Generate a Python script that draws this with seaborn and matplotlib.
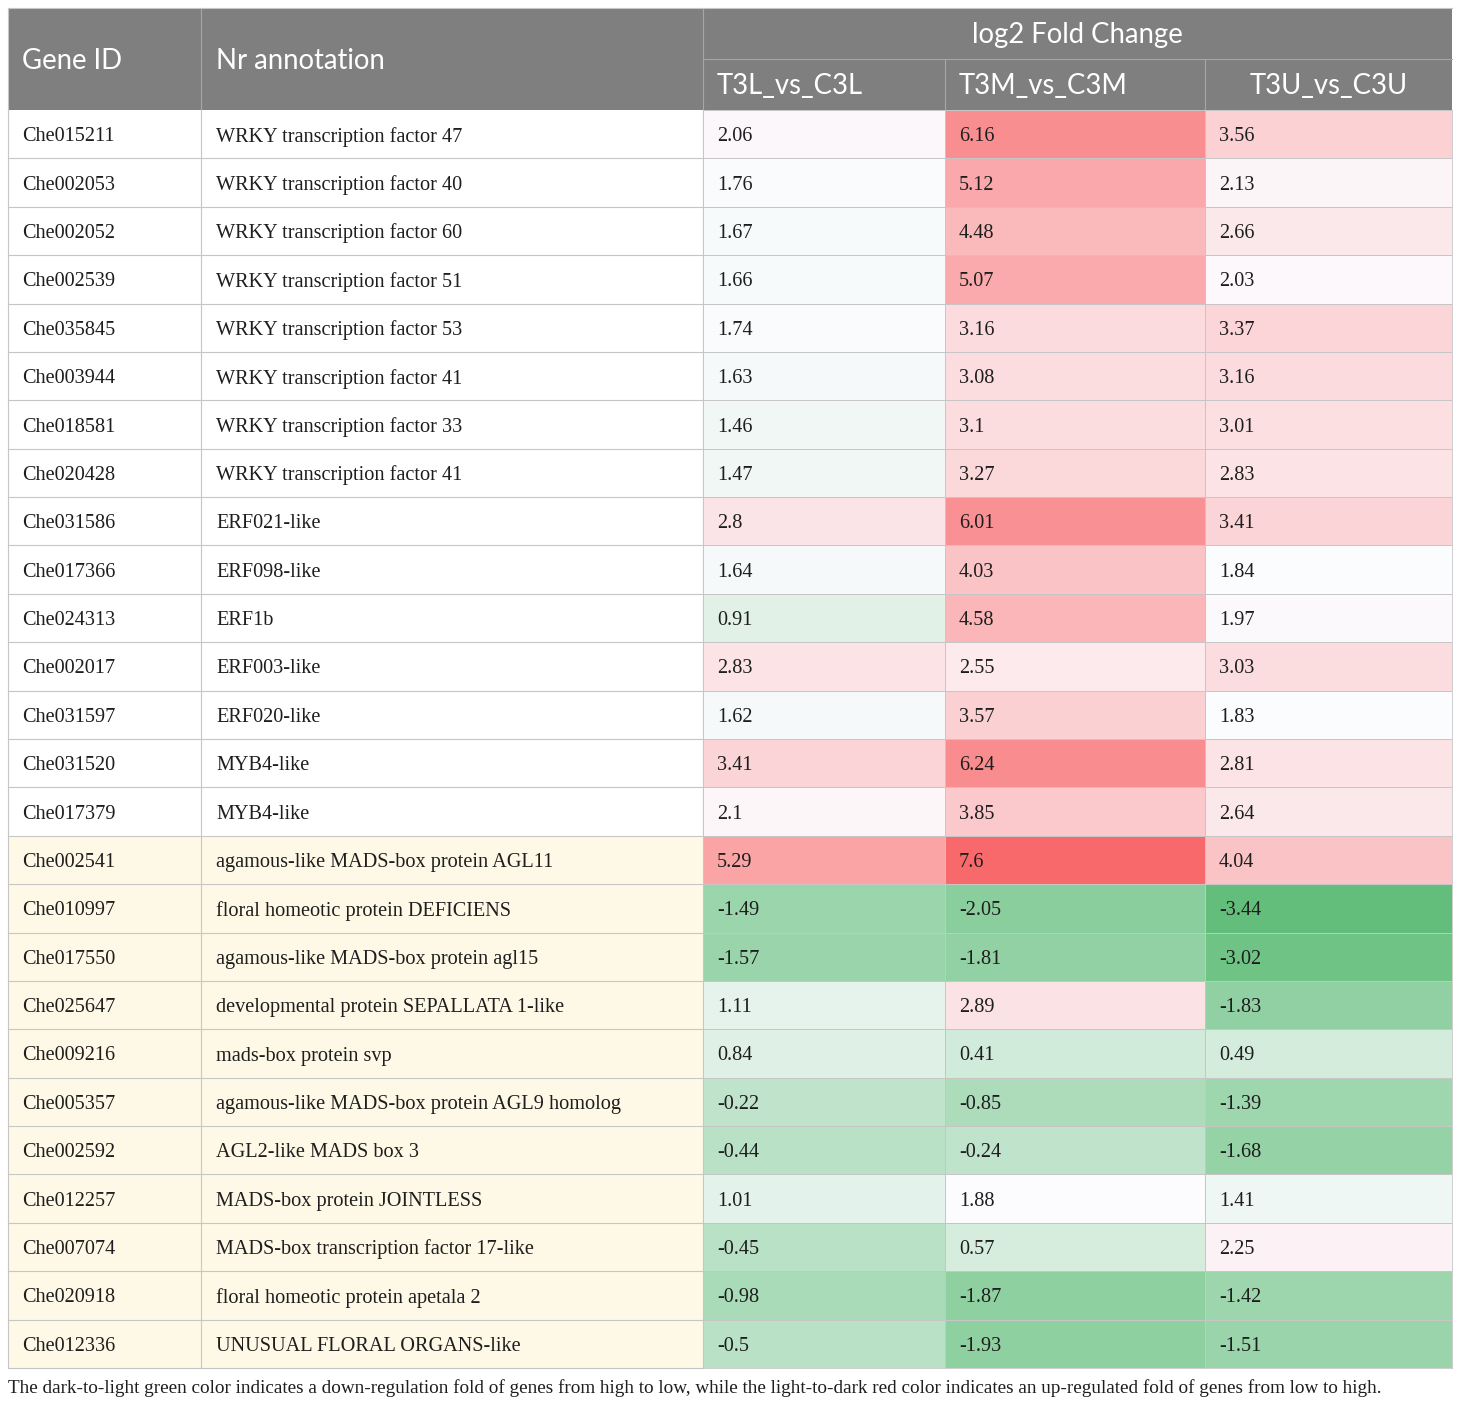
import numpy as np
import pandas as pd
import matplotlib
matplotlib.use("Agg")
import matplotlib.pyplot as plt
from matplotlib.colors import LinearSegmentedColormap, TwoSlopeNorm
from matplotlib.patches import Rectangle
import seaborn as sns

# ---------------- data ----------------
gene_ids = ["Che015211", "Che002053", "Che002052", "Che002539", "Che035845", "Che003944",
            "Che018581", "Che020428", "Che031586", "Che017366", "Che024313", "Che002017",
            "Che031597", "Che031520", "Che017379", "Che002541", "Che010997", "Che017550",
            "Che025647", "Che009216", "Che005357", "Che002592", "Che012257", "Che007074",
            "Che020918", "Che012336"]
annotations = ["WRKY transcription factor 47", "WRKY transcription factor 40",
               "WRKY transcription factor 60", "WRKY transcription factor 51",
               "WRKY transcription factor 53", "WRKY transcription factor 41",
               "WRKY transcription factor 33", "WRKY transcription factor 41",
               "ERF021-like", "ERF098-like", "ERF1b", "ERF003-like", "ERF020-like",
               "MYB4-like", "MYB4-like", "agamous-like MADS-box protein AGL11",
               "floral homeotic protein DEFICIENS", "agamous-like MADS-box protein agl15",
               "developmental protein SEPALLATA 1-like", "mads-box protein svp",
               "agamous-like MADS-box protein AGL9 homolog", "AGL2-like MADS box 3",
               "MADS-box protein JOINTLESS", "MADS-box transcription factor 17-like",
               "floral homeotic protein apetala 2", "UNUSUAL FLORAL ORGANS-like"]
t3l = [2.06, 1.76, 1.67, 1.66, 1.74, 1.63, 1.46, 1.47, 2.8, 1.64, 0.91, 2.83, 1.62, 3.41, 2.1,
       5.29, -1.49, -1.57, 1.11, 0.84, -0.22, -0.44, 1.01, -0.45, -0.98, -0.5]
t3m = [6.16, 5.12, 4.48, 5.07, 3.16, 3.08, 3.1, 3.27, 6.01, 4.03, 4.58, 2.55, 3.57, 6.24, 3.85,
       7.6, -2.05, -1.81, 2.89, 0.41, -0.85, -0.24, 1.88, 0.57, -1.87, -1.93]
t3u = [3.56, 2.13, 2.66, 2.03, 3.37, 3.16, 3.01, 2.83, 3.41, 1.84, 1.97, 3.03, 1.83, 2.81, 2.64,
       4.04, -3.44, -3.02, -1.83, 0.49, -1.39, -1.68, 1.41, 2.25, -1.42, -1.51]
value_cols = ["T3L_vs_C3L", "T3M_vs_C3M", "T3U_vs_C3U"]
header_group = "log2 Fold Change"
header_left = ["Gene ID", "Nr annotation"]
caption = ("The dark-to-light green color indicates a down-regulation fold of genes from high to low, "
           "while the light-to-dark red color indicates an up-regulated fold of genes from low to high.")
n_highlight_start = 15  # rows from Che002541 onward have cream background

df = pd.DataFrame({value_cols[0]: t3l, value_cols[1]: t3m, value_cols[2]: t3u}, index=gene_ids)

# ---------------- layout (pixels) ----------------
W, H = 1460, 1405
fig = plt.figure(figsize=(W / 100, H / 100), dpi=100)
fig.patch.set_facecolor("white")

x_edges = [8, 201, 703, 945, 1205, 1452]
y_top, y_mid, y_head = 8, 59, 110
y_bot = 1368
nrows = len(gene_ids)
rh = (y_bot - y_head) / nrows

serif = ["Liberation Serif", "DejaVu Serif"]
sans = ["Lato", "Open Sans", "DejaVu Sans"]
grid_c = "#c6c6c6"
head_c = "#7f7f7f"
cream = "#fef8e6"
txt_c = "#1e1e1e"
body_fs = 14.6
head_fs = 19.8

def px_axes(x0, y0, x1, y1):
    return fig.add_axes([x0 / W, 1 - y1 / H, (x1 - x0) / W, (y1 - y0) / H])

base = px_axes(0, 0, W, H)
base.set_xlim(0, W)
base.set_ylim(H, 0)
base.axis("off")

# header
base.add_patch(Rectangle((x_edges[0], y_top), x_edges[-1] - x_edges[0], y_head - y_top,
                         facecolor=head_c, edgecolor="none"))
hl = "#a6a6a6"
base.plot([x_edges[2], x_edges[-1]], [y_mid, y_mid], color=hl, lw=0.8)
for xe in x_edges[1:3]:
    base.plot([xe, xe], [y_top, y_head], color=hl, lw=0.8)
for xe in x_edges[3:5]:
    base.plot([xe, xe], [y_mid, y_head], color=hl, lw=0.8)
hy = (y_top + y_head) / 2 + 2
base.text(22, hy, header_left[0], color="white", fontsize=head_fs,
          family=sans, va="center", ha="left")
base.text(216, hy, header_left[1], color="white", fontsize=head_fs,
          family=sans, va="center", ha="left")
base.text((x_edges[2] + x_edges[-1]) / 2, (y_top + y_mid) / 2 + 2, header_group, color="white",
          fontsize=head_fs, family=sans, va="center", ha="center")
sub_y = (y_mid + y_head) / 2 + 2
base.text(x_edges[2] + 14, sub_y, value_cols[0], color="white", fontsize=head_fs, family=sans,
          va="center", ha="left")
base.text(x_edges[3] + 14, sub_y, value_cols[1], color="white", fontsize=head_fs, family=sans,
          va="center", ha="left")
base.text((x_edges[4] + x_edges[5]) / 2, sub_y, value_cols[2], color="white", fontsize=head_fs,
          family=sans, va="center", ha="center")

# left columns
for i, (gid, ann) in enumerate(zip(gene_ids, annotations)):
    y0 = y_head + i * rh
    if i >= n_highlight_start:
        base.add_patch(Rectangle((x_edges[0], y0), x_edges[2] - x_edges[0], rh,
                                 facecolor=cream, edgecolor="none"))
    base.text(22, y0 + rh / 2, gid, fontsize=body_fs, family=serif, color=txt_c,
              va="center_baseline", ha="left")
    base.text(216, y0 + rh / 2, ann, fontsize=body_fs, family=serif, color=txt_c,
              va="center_baseline", ha="left")
for i in range(1, nrows + 1):
    yy = y_head + i * rh
    base.plot([x_edges[0], x_edges[2]], [yy, yy], color=grid_c, lw=0.8)
for xe in x_edges[:3]:
    base.plot([xe, xe], [y_head, y_bot], color=grid_c, lw=0.8)
base.plot([x_edges[0], x_edges[0]], [y_top, y_head], color=grid_c, lw=0.8)
base.plot([x_edges[0], x_edges[-1]], [y_top, y_top], color=grid_c, lw=0.8)

# caption
base.text(8, 1388, caption, fontsize=13.8, family=serif, color=txt_c, va="center", ha="left")

# heatmap columns
cmap = LinearSegmentedColormap.from_list("excel3", ["#63be7b", "#fcfcff", "#f8696b"])
norm = TwoSlopeNorm(vmin=df.values.min(), vcenter=1.86, vmax=df.values.max())
for j, col in enumerate(value_cols):
    x0, x1 = x_edges[2 + j], x_edges[3 + j]
    ax = px_axes(x0, y_head, x1, y_bot)
    sns.heatmap(df[[col]], ax=ax, cmap=cmap, norm=norm, cbar=False, annot=False,
                linewidths=0.6, linecolor=grid_c, xticklabels=False, yticklabels=False)
    ax.set_xlabel("")
    ax.set_ylabel("")
    off = 14 / (x1 - x0)
    for i, v in enumerate(df[col].values):
        ax.text(off, i + 0.5, f"{v:g}", fontsize=body_fs, family=serif, color=txt_c,
                va="center_baseline", ha="left")
    for sp in ax.spines.values():
        sp.set_visible(True)
        sp.set_color(grid_c)
        sp.set_linewidth(0.6)

fig.savefig("out.png", dpi=100, facecolor="white")
